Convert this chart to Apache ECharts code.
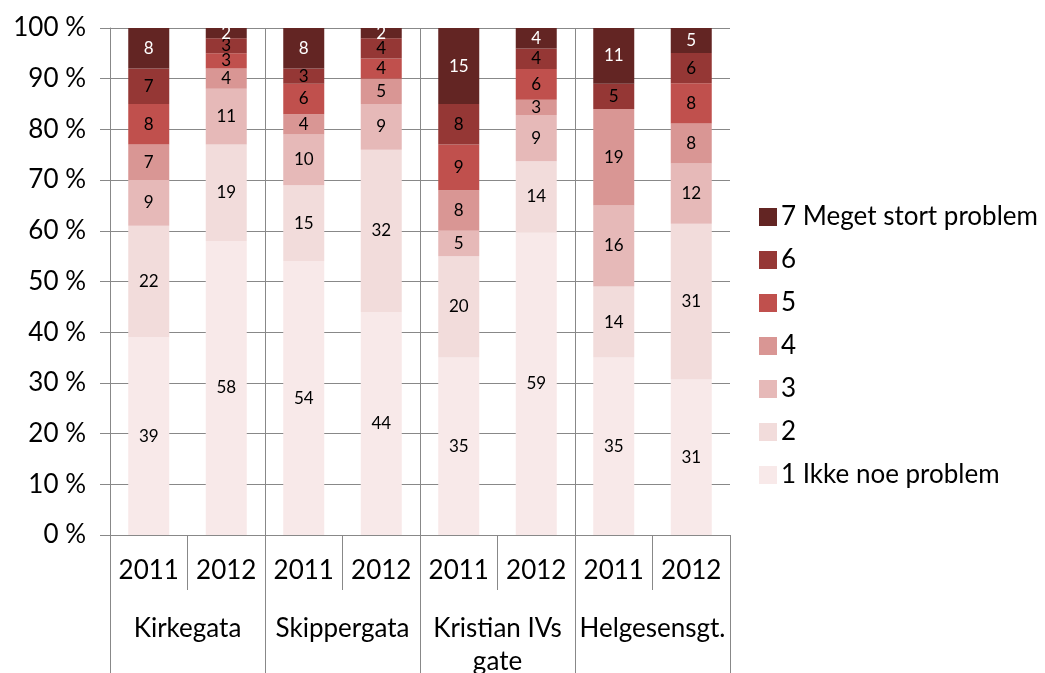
<!DOCTYPE html>
<html>
<head>
<meta charset="utf-8">
<script src="https://cdn.jsdelivr.net/npm/echarts@6/dist/echarts.min.js"></script>
<style>
    html, body { margin: 0; padding: 0; background: #fff; }
    #chart { width: 1045px; height: 673px; }
</style>
</head>
<body>
<div id="chart"></div>
<script>
// x categories (two levels)
const years = ['2011', '2012', '2011', '2012', '2011', '2012', '2011', '2012']
const streets = ['Kirkegata', 'Skippergata', 'Kristian IVs\ngate', 'Helgesensgt.']

// answers per column (1 = bottom ... 7 = top)
const s1 = [39, 58, 54, 44, 35, 59, 35, 31]
const s2 = [22, 19, 15, 32, 20, 14, 14, 31]
const s3 = [9, 11, 10, 9, 5, 9, 16, 12]
const s4 = [7, 4, 4, 5, 8, 3, 19, 8]
const s5 = [8, 3, 6, 4, 9, 6, 0, 8]
const s6 = [7, 3, 3, 4, 8, 4, 5, 6]
const s7 = [8, 2, 8, 2, 15, 4, 11, 5]

const names = ['1 Ikke noe problem', '2', '3', '4', '5', '6', '7 Meget stort problem']
const colors = ['#F8E9E9', '#F2DCDB', '#E6B9B8', '#D99694', '#C0504D', '#953735', '#632523']
const yTicks = [0, 10, 20, 30, 40, 50, 60, 70, 80, 90, 100]

const allSeries = [s1, s2, s3, s4, s5, s6, s7]
const FONT = 'Lato'

const chart = echarts.init(document.getElementById('chart'))

// column totals so each bar is scaled to 100 %
const totals = years.map((_, i) => allSeries.reduce((a, s) => a + s[i], 0))

const series = allSeries.map((raw, k) => ({
    name: names[k],
    type: 'bar',
    stack: 'total',
    barWidth: 41,
    xAxisIndex: 0,
    itemStyle: { color: colors[k] },
    label: {
        show: true,
        position: 'inside',
        fontFamily: FONT,
        fontSize: 17,
        color: k === 6 ? '#fff' : '#000',
        formatter: p => raw[p.dataIndex] ? String(raw[p.dataIndex]) : ''
    },
    data: raw.map((v, i) => v / totals[i] * 100)
}))

const option = {
    animation: false,
    textStyle: { fontFamily: FONT },
    grid: { left: 110, right: 315, top: 28, bottom: 138, outerBoundsMode: 'none', containLabel: false },
    legend: {
        orient: 'vertical',
        left: 754,
        top: 199,
        itemWidth: 18,
        itemHeight: 18,
        itemGap: 17,
        icon: 'rect',
        textStyle: { fontFamily: FONT, fontSize: 26, color: '#000', padding: [0, 0, 0, -1] },
        data: names.slice().reverse()
    },
    xAxis: [
        {
            type: 'category',
            position: 'bottom',
            data: years,
            axisLine: { lineStyle: { color: '#888' } },
            axisTick: { show: true, interval: 0, length: 55, lineStyle: { color: '#888' } },
            axisLabel: { interval: 0, margin: 23, fontFamily: FONT, fontSize: 26, color: '#000' },
            splitLine: { show: false }
        },
        {
            type: 'category',
            position: 'bottom',
            data: streets,
            axisLine: { show: false },
            axisTick: { show: true, interval: 0, length: 140, lineStyle: { color: '#888' } },
            axisLabel: { interval: 0, margin: 77, fontFamily: FONT, fontSize: 26, color: '#000', lineHeight: 33 },
            splitLine: { show: true, interval: 0, showMaxLine: false, lineStyle: { color: '#888' } }
        }
    ],
    yAxis: {
        type: 'value',
        min: yTicks[0],
        max: yTicks[yTicks.length - 1],
        interval: 10,
        axisLine: { show: true, lineStyle: { color: '#888' } },
        axisTick: { show: true, length: 10, lineStyle: { color: '#888' } },
        axisLabel: { margin: 24, fontFamily: FONT, fontSize: 26, color: '#000', formatter: '{value} %' },
        splitLine: { lineStyle: { color: '#888' } }
    },
    series: series
}

chart.setOption(option)
</script>
</body>
</html>
